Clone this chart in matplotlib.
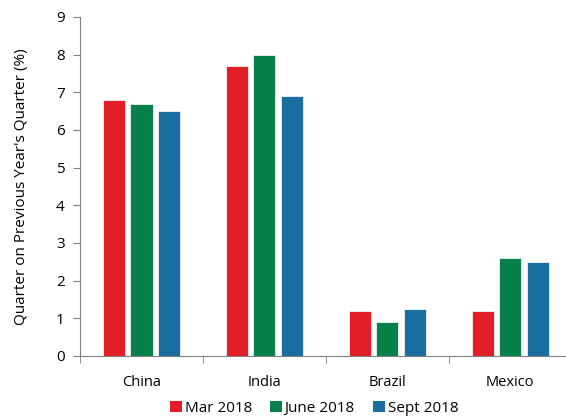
import numpy as np
import matplotlib
matplotlib.use("Agg")
import matplotlib.pyplot as plt
from matplotlib.patches import Patch

plt.rcParams['font.family'] = ['Open Sans', 'DejaVu Sans']

countries = ['China', 'India', 'Brazil', 'Mexico']
series = ['Mar 2018', 'June 2018', 'Sept 2018']
mar_2018 = [6.8, 7.7, 1.2, 1.2]
jun_2018 = [6.7, 8.0, 0.9, 2.6]
sep_2018 = [6.5, 6.9, 1.25, 2.5]
colors = ['#e31e26', '#07804a', '#1b6ea1']

fig = plt.figure(figsize=(5.66, 4.17), dpi=100)
ax = fig.add_axes([0.1413, 0.1463, 0.869, 0.813])

x = np.arange(len(countries))
width = 0.18
step = 0.222
for i, (vals, col) in enumerate(zip([mar_2018, jun_2018, sep_2018], colors)):
    ax.bar(x + (i - 1) * step, vals, width, color=col,
           edgecolor='#f2f2f2', linewidth=0.6)

ax.set_xlim(-0.5, len(countries) - 0.5)
ax.set_ylim(0, 9)
ax.set_yticks(range(10))
ax.set_xticks(x)
ax.set_xticklabels(countries)
ax.set_xticks(np.arange(-0.5, len(countries), 1.0), minor=True)
ax.tick_params(axis='x', which='major', length=0, pad=14, labelsize=10.5)
ax.tick_params(axis='x', which='minor', length=5, direction='out', color='#808080')
ax.tick_params(axis='y', length=5, color='#808080', labelsize=11, pad=6)

for side in ['top', 'right']:
    ax.spines[side].set_visible(False)
for side in ['left', 'bottom']:
    ax.spines[side].set_color('#808080')

ax.set_ylabel("Quarter on Previous Year's Quarter (%)", fontsize=11)
ax.yaxis.set_label_coords(-0.104, 0.5)

handles = [Patch(facecolor=c, label=s) for s, c in zip(series, colors)]
fig.legend(handles=handles, loc='center', bbox_to_anchor=(0.555, 0.021),
           ncol=3, frameon=False, fontsize=11, handlelength=0.75,
           handleheight=0.75, handletextpad=0.2, columnspacing=1.2)

fig.savefig('out.png', dpi=100)
